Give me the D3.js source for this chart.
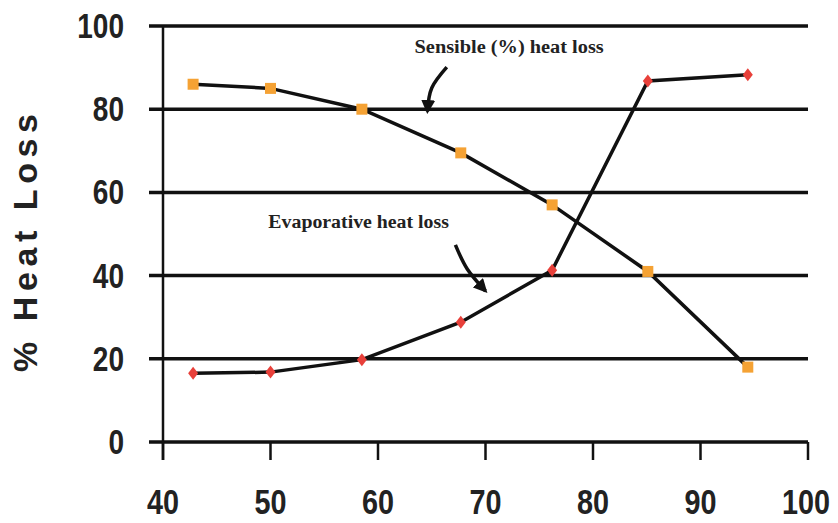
<!DOCTYPE html>
<html>
<head>
<meta charset="utf-8">
<script src="https://cdn.jsdelivr.net/npm/d3@7"></script>
<style>
  body { margin: 0; background: #fff; }
  svg { display: block; }
</style>
</head>
<body>
<script>
// data
let air_temp = [42.8, 50, 58.5, 67.7, 76.2, 85.1, 94.4];
let sensible_loss = [86, 85, 80, 69.5, 57, 41, 18];
let evaporative_loss = [16.5, 16.8, 19.8, 28.8, 41.3, 86.8, 88.3];
let x_ticks = [40, 50, 60, 70, 80, 90, 100];
let y_ticks = [0, 20, 40, 60, 80, 100];

// annotations, in data units
let note_sensible = {text: "Sensible (%) heat loss", at: [63.4, 93.4], arrow: [[66.4, 90.1], [65.0, 85.1], [64.6, 79.5]]};
let note_evap = {text: "Evaporative heat loss", at: [49.8, 51.4], arrow: [[67.2, 47.4], [68.3, 41.6], [70.0, 36.3]]};

// colors
let color_line = "#111";
let color_orange = "#f5a234";
let color_red = "#e8403a";

let width = 838;
let height = 523;

let x = d3.scaleLinear().domain([40, 100]).range([163, 808]);
let y = d3.scaleLinear().domain([0, 100]).range([442, 26]);

let svg = d3.select("body").append("svg")
            .attr("width", width)
            .attr("height", height);

svg.append("defs").append("marker")
   .attr("id", "head")
   .attr("viewBox", "0 0 10 10")
   .attr("refX", 8).attr("refY", 5)
   .attr("markerWidth", 4).attr("markerHeight", 4)
   .attr("orient", "auto")
   .append("path")
   .attr("d", "M0,0 L10,5 L0,10 z")
   .style("fill", color_line);

// horizontal grid lines
svg.selectAll(".grid")
   .data(y_ticks)
   .enter().append("line")
   .attr("x1", x(40) - 14).attr("x2", x(100))
   .attr("y1", d => y(d)).attr("y2", d => y(d))
   .style("stroke", color_line)
   .style("stroke-width", 3.5);

// y axis line
svg.append("line")
   .attr("x1", x(40)).attr("x2", x(40))
   .attr("y1", y(100)).attr("y2", y(0) + 18)
   .style("stroke", color_line)
   .style("stroke-width", 2.5);

// x ticks
svg.selectAll(".xtick")
   .data(x_ticks)
   .enter().append("line")
   .attr("x1", d => x(d)).attr("x2", d => x(d))
   .attr("y1", y(0)).attr("y2", y(0) + 18)
   .style("stroke", color_line)
   .style("stroke-width", 2.5);

let label_font = "'Liberation Sans', Arial, sans-serif";
let squeeze = 0.8;   // reference digits look condensed

// keep the last label inside the window, like the reference
svg.selectAll(".xlabel")
   .data(x_ticks)
   .enter().append("text")
   .attr("transform", d => "translate(" + Math.min(x(d), 806) + ",514) scale(" + squeeze + ",1)")
   .attr("text-anchor", "middle")
   .attr("font-family", label_font)
   .attr("font-weight", "bold")
   .attr("font-size", 36)
   .style("fill", "#222")
   .text(d => d);

svg.selectAll(".ylabel")
   .data(y_ticks)
   .enter().append("text")
   .attr("transform", d => "translate(124," + (y(d) + 12) + ") scale(" + squeeze + ",1)")
   .attr("text-anchor", "end")
   .attr("font-family", label_font)
   .attr("font-weight", "bold")
   .attr("font-size", 35)
   .style("fill", "#222")
   .text(d => d);

// y axis title
svg.append("text")
   .attr("transform", "translate(37," + 243 + ") rotate(-90)")
   .attr("text-anchor", "middle")
   .attr("font-family", label_font)
   .attr("font-weight", "bold")
   .attr("font-size", 34)
   .attr("textLength", 258)
   .attr("lengthAdjust", "spacing")
   .style("fill", "#222")
   .text("% Heat Loss");

// series lines
let line_gen = d3.line().x(d => x(d[0])).y(d => y(d[1]));

[sensible_loss, evaporative_loss].forEach(series => {
    svg.append("path")
       .datum(d3.zip(air_temp, series))
       .attr("d", line_gen)
       .style("fill", "none")
       .style("stroke", color_line)
       .style("stroke-width", 3.5);
});

// markers
svg.selectAll(".sq")
   .data(d3.zip(air_temp, sensible_loss))
   .enter().append("rect")
   .attr("x", d => x(d[0]) - 5.5)
   .attr("y", d => y(d[1]) - 5.5)
   .attr("width", 11).attr("height", 11)
   .style("fill", color_orange);

svg.selectAll(".dia")
   .data(d3.zip(air_temp, evaporative_loss))
   .enter().append("path")
   .attr("transform", d => "translate(" + x(d[0]) + "," + y(d[1]) + ")")
   .attr("d", "M0,-6.5 L5,0 L0,6.5 L-5,0 z")
   .style("fill", color_red);

// annotations
let arrow_gen = d3.line().x(d => x(d[0])).y(d => y(d[1])).curve(d3.curveNatural);

function add_note(note) {
    svg.append("text")
       .attr("x", x(note.at[0]))
       .attr("y", y(note.at[1]))
       .attr("font-family", "'Liberation Serif', 'Times New Roman', serif")
       .attr("font-weight", "bold")
       .attr("font-size", 18)
       .attr("textLength", note.text.length * 8.6)
       .attr("lengthAdjust", "spacingAndGlyphs")
       .style("fill", "#222")
       .text(note.text);

    svg.append("path")
       .attr("d", arrow_gen(note.arrow))
       .attr("marker-end", "url(#head)")
       .style("fill", "none")
       .style("stroke", color_line)
       .style("stroke-width", 3.5);
}

add_note(note_sensible);
add_note(note_evap);
</script>
</body>
</html>
